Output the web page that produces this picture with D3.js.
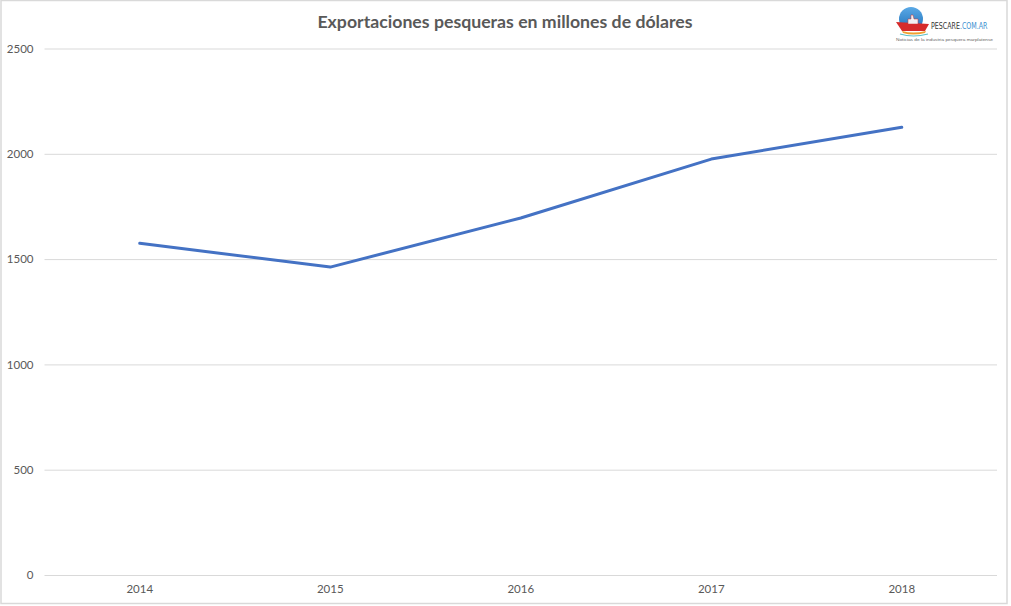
<!DOCTYPE html>
<html>
<head>
<meta charset="utf-8">
<script src="https://cdn.jsdelivr.net/npm/d3@7"></script>
<style>
  html, body { margin: 0; padding: 0; background: #fff; }
  svg { display: block; }
  .tick text { font-family: "Lato", "Open Sans", sans-serif; fill: #595959; }
</style>
</head>
<body>
<svg id="chart"></svg>
<script>
    // chart data
    const years = ["2014", "2015", "2016", "2017", "2018"];
    const exports = [1575, 1462, 1695, 1975, 2126];
    const yTicks = [0, 500, 1000, 1500, 2000, 2500];

    const width = 1011, height = 606;
    const margin = {left: 44.5, right: 14, top: 48.5, bottom: 31};

    const svg = d3.select("#chart").attr("width", width).attr("height", height);

    // outer frame
    svg.append("rect")
      .attr("x", 1).attr("y", 0.5)
      .attr("width", 1006).attr("height", 603)
      .attr("fill", "#fff")
      .attr("stroke", "#d9d9d9").attr("stroke-width", 1.5);

    const x = d3.scaleBand()
      .domain(years)
      .range([margin.left, width - margin.right]);

    const y = d3.scaleLinear()
      .domain([0, 2500])
      .range([height - margin.bottom, margin.top]);

    // gridlines + y labels
    svg.append("g")
      .attr("transform", `translate(${margin.left},0)`)
      .call(d3.axisLeft(y).tickValues(yTicks).tickFormat(d3.format("d"))
        .tickSize(-(width - margin.right - margin.left)).tickPadding(11))
      .call(g => g.select(".domain").remove())
      .call(g => g.selectAll(".tick line").attr("stroke", "#d9d9d9").attr("stroke-width", 1))
      .call(g => g.selectAll(".tick text").attr("font-size", 11.5).attr("dy", "0.32em"));

    // x labels
    svg.append("g")
      .attr("transform", `translate(0,${height - margin.bottom})`)
      .call(d3.axisBottom(x).tickSize(0).tickPadding(10))
      .call(g => g.select(".domain").remove())
      .call(g => g.selectAll(".tick text").attr("font-size", 11.5));

    // line
    const line = d3.line()
      .x((d, i) => x(years[i]) + x.bandwidth() / 2)
      .y(d => y(d));

    svg.append("path")
      .datum(exports)
      .attr("fill", "none")
      .attr("stroke", "#4472C4")
      .attr("stroke-width", 3)
      .attr("stroke-linejoin", "round")
      .attr("stroke-linecap", "round")
      .attr("d", line);

    // title
    svg.append("text")
      .attr("x", 505)
      .attr("y", 28)
      .attr("text-anchor", "middle")
      .attr("font-family", "Lato, 'Open Sans', sans-serif")
      .attr("font-weight", "bold")
      .attr("font-size", 17.7)
      .attr("fill", "#595959")
      .text("Exportaciones pesqueras en millones de dólares");

    // logo (rough)
    const logo = svg.append("g");
    const grad = svg.append("defs").append("linearGradient")
      .attr("id", "sky").attr("x1", 0).attr("y1", 0).attr("x2", 0).attr("y2", 1);
    grad.append("stop").attr("offset", "0%").attr("stop-color", "#5aa9e6");
    grad.append("stop").attr("offset", "100%").attr("stop-color", "#1f6fb8");
    logo.append("circle").attr("cx", 911).attr("cy", 19).attr("r", 12).attr("fill", "url(#sky)");
    logo.append("path")
      .attr("d", "M896,22 L929,24 L925,31 L902,31 Z")
      .attr("fill", "#d62b2b");
    logo.append("path")
      .attr("d", "M908,24 L918,24 L918,19 L914,19 L913,15 L911,15 L911,19 L908,19 Z")
      .attr("fill", "#f2f2f2").attr("stroke", "#c33").attr("stroke-width", 0.5);
    logo.append("path")
      .attr("d", "M902,31 Q913,34 926,31 L925,33 Q913,36 903,33 Z")
      .attr("fill", "#f0a030");
    logo.append("path")
      .attr("d", "M900,34 Q913,38 928,34")
      .attr("fill", "none").attr("stroke", "#5ec0c9").attr("stroke-width", 1.2);
    // brand text squeezed horizontally
    const brand = logo.append("text")
      .attr("transform", "translate(931,29) scale(0.74,1)")
      .attr("font-family", "'DejaVu Sans Condensed', sans-serif")
      .attr("font-size", 9.5);
    brand.append("tspan").attr("fill", "#333").text("PESCARE");
    brand.append("tspan").attr("fill", "#3a8fd0").text(".COM.AR");
    logo.append("text")
      .attr("x", 896).attr("y", 41)
      .attr("font-family", "'Liberation Sans', sans-serif")
      .attr("font-size", 4.3)
      .attr("fill", "#666")
      .attr("textLength", 97).attr("lengthAdjust", "spacingAndGlyphs")
      .text("Noticias de la industria pesquera marplatense");
</script>
</body>
</html>
